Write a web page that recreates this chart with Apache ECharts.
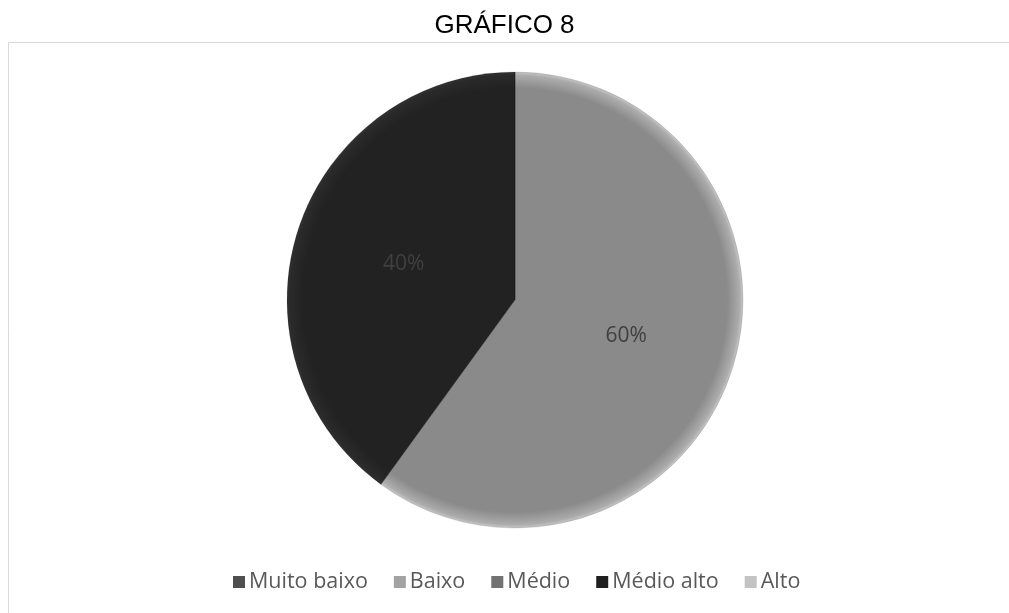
<!DOCTYPE html>
<html>
<head>
<meta charset="utf-8">
<script src="https://cdn.jsdelivr.net/npm/echarts@6/dist/echarts.min.js"></script>
<style>
  html, body { margin: 0; padding: 0; background: #ffffff; }
  #chart { width: 1009px; height: 613px; }
</style>
</head>
<body>
<div id="chart"></div>
<script>
// Categories and shares for GRÁFICO 8
const categories = ['Muito baixo', 'Baixo', 'Médio', 'Médio alto', 'Alto'];
const shares = [0, 0, 60, 40, 0];
const sliceColors = ['#505050', '#9c9c9c', '#8a8a8a', '#222222', '#c0c0c0'];
const legendColors = ['#4f4f4f', '#a3a3a3', '#727272', '#1f1f1f', '#c3c3c3'];

const cx = 515, cy = 300, R = 228;

function shaded(base) {
  // Darken the rim a little so the disc reads as slightly bevelled
  return {
    type: 'radial', x: cx, y: cy, r: R, global: true,
    colorStops: [
      { offset: 0, color: base },
      { offset: 0.93, color: base },
      { offset: 0.985, color: echarts.color.lift(base, -0.25) },
      { offset: 1, color: echarts.color.lift(base, -0.45) }
    ]
  };
}

const chart = echarts.init(document.getElementById('chart'), null, { renderer: 'canvas' });

chart.setOption({
  animation: false,
  title: {
    text: 'GRÁFICO 8',
    left: 'center',
    top: 8,
    textStyle: { fontFamily: 'Liberation Sans', fontSize: 26, fontWeight: 'normal', color: '#000000' }
  },
  graphic: [{
    type: 'rect',
    shape: { x: 8.5, y: 42.5, width: 1100, height: 700 },
    style: { fill: 'none', stroke: '#d9d9d9', lineWidth: 1 },
    silent: true
  }],
  legend: {
    data: categories.map((name, i) => ({
      name,
      itemStyle: { color: legendColors[i], borderWidth: 0 }
    })),
    bottom: 15,
    left: 228,
    itemWidth: 12,
    itemHeight: 12,
    itemGap: 26,
    icon: 'rect',
    textStyle: { fontFamily: 'Open Sans', fontSize: 21.5, color: '#595959', padding: [0, 0, 0, -1] }
  },
  series: [{
    type: 'pie',
    center: [cx, cy],
    radius: [0, R],
    startAngle: 90,
    clockwise: true,
    avoidLabelOverlap: false,
    stillShowZeroSum: false,
    label: {
      show: true,
      position: 'inside',
      formatter: p => p.value > 0 ? p.percent.toFixed(0) + '%' : '',
      fontFamily: 'Open Sans',
      fontSize: 21,
      color: '#404040'
    },
    labelLine: { show: false },
    itemStyle: { borderColor: 'rgba(0,0,0,0.25)', borderWidth: 0.5 },
    data: categories.map((name, i) => ({
      name,
      value: shares[i],
      itemStyle: { color: shaded(sliceColors[i]) },
      label: { show: shares[i] > 0 }
    }))
  }]
});
</script>
</body>
</html>
